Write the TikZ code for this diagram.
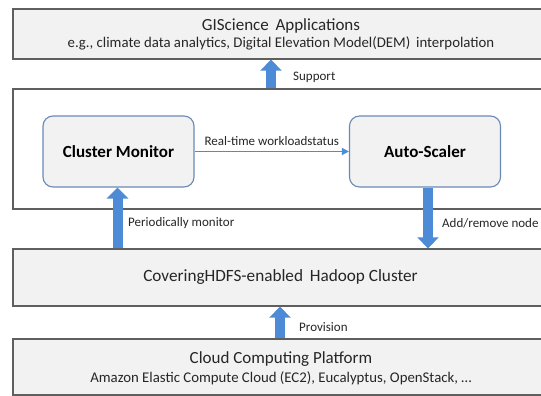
\documentclass[tikz,border=0pt]{standalone}
\usepackage{fontspec}
\setmainfont{Carlito}
\usetikzlibrary{arrows.meta}
\definecolor{arrowblue}{RGB}{78,139,214}
\definecolor{boxfill}{RGB}{242,242,242}
\definecolor{boxline}{RGB}{95,95,95}
\definecolor{rboxline}{RGB}{104,138,182}
\definecolor{txt}{RGB}{38,38,38}
\begin{document}
\begin{tikzpicture}[x=1pt,y=-1pt,
  layer/.style={draw=boxline, line width=1.3pt, fill=boxfill, minimum width=535pt, inner sep=0pt, align=center, text=txt},
  comp/.style={draw=rboxline, line width=1.1pt, fill=boxfill, rounded corners=10pt, minimum width=151pt, minimum height=71pt, font=\fontsize{17}{20}\selectfont\bfseries, text=black},
  fat/.style={draw=arrowblue, line width=10pt, -{Triangle[width=21pt,length=11pt]}},
  thinarrow/.style={draw=arrowblue, line width=1.4pt, -{Triangle[width=7pt,length=7pt]}},
  lbl/.style={font=\fontsize{13}{15}\selectfont, text=txt, inner sep=0pt, anchor=west},
  ttl/.style={font=\fontsize{17}{20}\selectfont, text=txt, inner sep=0pt, anchor=base},
  sub/.style={font=\fontsize{14.8}{17}\selectfont, text=txt, inner sep=0pt, anchor=base},
]
\useasboundingbox (0,0) rectangle (541,396);
\fill[white] (0,0) rectangle (541,396);
\node[layer, minimum height=50pt] (apps) at (280.5,34) {};
\node[ttl] (appsT) at (281,31) {GIScience\, Applications};
\node[sub] (appsS) at (281,48) {e.g., climate data analytics, Digital Elevation Model(DEM)\, interpolation};
\node[layer, fill=white, minimum height=120pt] (mid) at (280.5,149) {};
\node[layer, minimum height=57pt] (hadoop) at (280.5,277.5) {\fontsize{17.2}{20}\selectfont CoveringHDFS-enabled\, Hadoop Cluster};
\node[layer, minimum height=56pt] (cloud) at (280.5,367) {};
\node[ttl] (cloudT) at (281,363) {Cloud Computing Platform};
\node[sub] (cloudS) at (281,382) {Amazon Elastic Compute Cloud (EC2), Eucalyptus, OpenStack, \dots};
\node[comp] (cm) at (118.5,151.5) {Cluster Monitor};
\node[comp] (as) at (425,151.5) {Auto-Scaler};
\draw[thinarrow] (cm.east) -- (as.west) node[midway, above=5pt, font=\fontsize{13}{15}\selectfont, text=txt, inner sep=0pt] (rt) {Real-time workloadstatus};
\draw[fat] ([xshift=-9.5pt]mid.north) -- ([xshift=-9.5pt]apps.south);
\draw[fat] ([xshift=-1pt]cm.south |- hadoop.north) -- ([xshift=-1pt]cm.south);
\draw[fat] ([xshift=3pt]as.south) -- ([xshift=3pt]as.south |- hadoop.north);
\draw[fat] ([xshift=-0.5pt]cloud.north) -- ([xshift=-0.5pt]hadoop.south);
\node[lbl] (sup) at (293,77) {Support};
\node[lbl] (pm) at (128,223) {Periodically monitor};
\node[lbl] (arn) at (442,223) {Add/remove node};
\node[lbl] (prov) at (299,327) {Provision};
\end{tikzpicture}
\end{document}
